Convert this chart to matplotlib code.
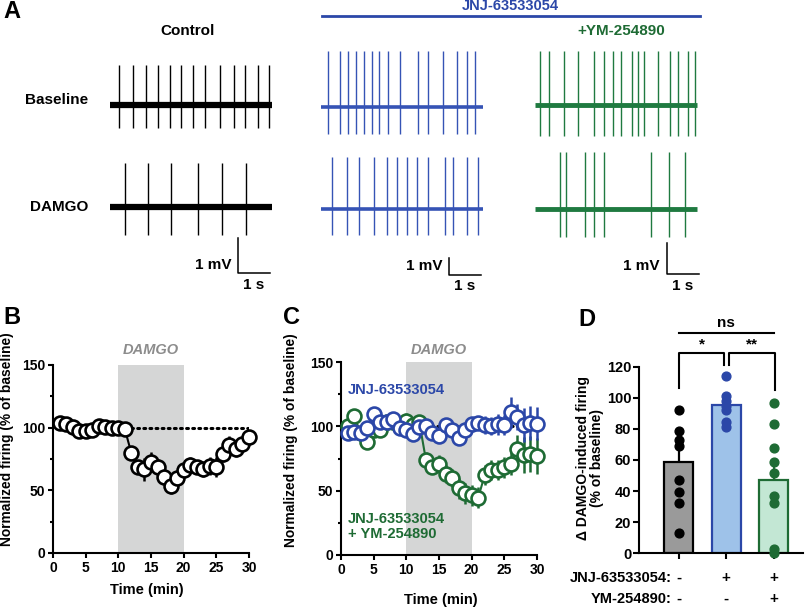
import numpy as np
import matplotlib
matplotlib.use("Agg")
import matplotlib.pyplot as plt

plt.rcParams['font.family'] = ['Liberation Sans', 'DejaVu Sans']
plt.rcParams['font.weight'] = 'bold'
plt.rcParams['axes.labelweight'] = 'bold'

W, H = 805, 608

BLUE = '#2b47a8'
BLUE_TR = '#3553b5'
GREEN = '#1e6b34'
GREEN_TR = '#1f7a40'
SHADE = '#d5d6d6'

# ---------------- panel A: spike times (s) ----------------
ctrl_base_spikes = [0.28, 0.72, 1.12, 1.50, 1.87, 2.22, 2.59, 2.97, 3.44, 3.87, 4.22, 4.62, 4.97]
ctrl_damgo_spikes = [0.47, 1.19, 1.90, 2.75, 3.50, 4.25]
jnj_base_spikes = [0.23, 0.59, 0.83, 1.09, 1.35, 1.60, 1.81, 2.10, 2.47, 3.03, 3.33, 3.80, 4.24, 4.55, 4.80]
jnj_damgo_spikes = [0.33, 0.80, 1.20, 1.67, 2.05, 2.37, 2.68, 3.01, 3.35, 3.88, 4.13, 4.55, 4.92]
ym_base_spikes = [0.16, 0.44, 0.92, 1.35, 1.85, 2.16, 2.45, 2.69, 3.02, 3.22, 3.42, 3.85, 4.22, 4.46, 4.77, 5.00]
ym_damgo_spikes = [0.79, 0.97, 1.57, 1.83, 2.15, 3.62, 4.19, 4.69]

# spike amplitude (up, down) in mV for each row
ctrl_amp = [(1.14, 0.66), (1.26, 0.80)]
jnj_amp = [(3.30, 1.60), (3.06, 1.53)]
ym_amp = [(1.74, 1.00), (1.84, 0.90)]
trace_dur = 5.05

# ---------------- panel B ----------------
time_min = np.arange(1, 31)
ctrl_firing = [103.5, 103, 100.3, 97.7, 97.7, 98.3, 101.5, 100.3, 100, 99.5, 98.8,
               79.5, 68.9, 66.8, 72.9, 68.9, 60.9, 53.7, 59.6, 66.2,
               70.2, 68.9, 66.8, 69.4, 68.9, 79.0, 86.2, 82.7, 87.0, 92.8]
ctrl_sem = [2, 2, 2, 2, 2, 2, 2, 2, 2, 2, 2,
            5, 5, 9, 8, 6, 5, 7, 5, 5,
            6, 5, 6, 7, 8, 6, 7, 6, 5, 4]

# ---------------- panel C ----------------
jnj_firing = [94.6, 95.8, 95.0, 98.4, 109.5, 103.5, 103.1, 105.4, 98.4, 97.1,
              93.8, 99.2, 100.5, 95.0, 92.5, 101.0, 97.0, 90.7, 97.0, 102.0,
              102.8, 101.0, 100.0, 101.5, 101.0, 111.0, 107.0, 101.0, 102.5, 102.0]
jnj_sem = [3, 3, 3, 3, 3, 3, 3, 3, 3, 3, 3, 3, 3, 3, 3, 4, 3, 3, 3, 3,
           5, 7, 7, 8, 8, 12, 10, 13, 13, 13]
ym_firing = [100, 108, 95, 88, 97, 97, 103, 103, 100, 104,
             101, 103, 73.8, 68.6, 71.0, 63.0, 59.6, 51.8, 48.0, 46.3,
             44.5, 62.2, 66.1, 66.1, 68.2, 71.0, 82.0, 77.8, 78.5, 77.0]
ym_sem = [4, 5, 4, 6, 4, 4, 4, 5, 5, 6, 5, 6, 6, 6, 7, 7, 7, 8, 8, 8,
          8, 8, 8, 8, 8, 9, 11, 14, 14, 14]

# ---------------- panel D ----------------
d_means = [58.5, 95.4, 47.1]
d_sem = [9, 4, 11]
d_ctrl_pts = [92.1, 78.6, 72.9, 69.0, 47.1, 39.6, 32.1, 13.3]
d_jnj_pts = [114.2, 101.1, 98.1, 95.0, 92.1, 84.6, 81.4]
d_ym_pts = [96.9, 82.9, 67.5, 58.9, 51.4, 36.9, 32.1, 2.6, 0.4]
jnj_signs = ['-', '+', '+']
ym_signs = ['-', '-', '+']

fig = plt.figure(figsize=(W / 100, H / 100), dpi=100)


def px_axes(left, top, right, bottom):
    return fig.add_axes([left / W, 1 - bottom / H, (right - left) / W, (bottom - top) / H])


def ftext(x, y, s, **kw):
    fig.text(x / W, 1 - y / H, s, **kw)


# ---------------- A: traces ----------------
PPS = 32.0  # px per second


def draw_traces(x0, ppm, color, base_lw, rows, bar_t, bar_py):
    ax = px_axes(x0 - 6, 30, x0 + 184, 295)
    ax.set_xlim(-6 / PPS, 184 / PPS)
    ax.set_ylim(0, 265 / ppm)
    ax.axis('off')
    for spikes, (up, down), py in rows:
        y0 = (295 - py) / ppm
        ax.plot([0, trace_dur], [y0, y0], color=color, lw=base_lw, solid_capstyle='butt')
        ax.vlines(spikes, y0 - down, y0 + up, color=color, lw=1.0)
    by = (295 - bar_py) / ppm
    ax.plot([bar_t, bar_t, bar_t + 1], [by + 1, by, by], color='black', lw=1.1)
    ax.annotate('1 mV', (bar_t, by), xytext=(-5, 6), textcoords='offset points',
                ha='right', va='center', fontsize=11)
    ax.annotate('1 s', (bar_t + 0.5, by), xytext=(0, -8.5), textcoords='offset points',
                ha='center', va='center', fontsize=11)


draw_traces(110, 35, 'black', 4.5,
            [(ctrl_base_spikes, ctrl_amp[0], 105), (ctrl_damgo_spikes, ctrl_amp[1], 207)],
            4.0, 273)
draw_traces(321, 17, BLUE_TR, 2.6,
            [(jnj_base_spikes, jnj_amp[0], 107), (jnj_damgo_spikes, jnj_amp[1], 209)],
            4.0, 274.5)
draw_traces(535, 31, GREEN_TR, 3.5,
            [(ym_base_spikes, ym_amp[0], 105), (ym_damgo_spikes, ym_amp[1], 209)],
            4.12, 274)

ftext(3, 11, 'A', fontsize=17, va='center', ha='left')
ftext(188, 31, 'Control', fontsize=11, ha='center', va='center')
ftext(88, 100, 'Baseline', fontsize=11, ha='right', va='center')
ftext(88, 207, 'DAMGO', fontsize=11, ha='right', va='center')
ftext(510, 6, 'JNJ-63533054', fontsize=10.5, ha='center', va='center', color=BLUE)
ftext(621, 31, '+YM-254890', fontsize=11, ha='center', va='center', color=GREEN)
fig.add_artist(plt.Line2D([322 / W, 700 / W], [1 - 16 / H, 1 - 16 / H], color=BLUE, lw=2))


# ---------------- B & C: time courses ----------------
def style_time_axes(ax):
    ax.set_xlim(0, 30)
    ax.set_ylim(0, 150)
    ax.set_xticks(range(0, 31, 5))
    ax.set_yticks([0, 50, 100, 150])
    ax.set_yticks([25, 75, 125], minor=True)
    for side in ['top', 'right']:
        ax.spines[side].set_visible(False)
    for side in ['left', 'bottom']:
        ax.spines[side].set_linewidth(1.5)
    ax.tick_params(which='both', width=1.5, labelsize=10, length=3.5, pad=2)
    ax.tick_params(which='minor', length=2.5)
    ax.axvspan(10, 20, color=SHADE, lw=0, zorder=0)
    ax.set_xlabel('Time (min)', fontsize=10.5)
    ax.set_ylabel('Normalized firing (% of baseline)', fontsize=9.9)


axB = px_axes(53, 365, 249, 553)
style_time_axes(axB)
axB.plot([11, 30], [100, 100], color='black', lw=2.2, ls=(0, (0.6, 1.4)),
         dash_capstyle='round', zorder=2)
axB.errorbar(time_min, ctrl_firing, yerr=ctrl_sem, color='black', lw=1.5, elinewidth=1.8,
             capsize=0, marker='o', ms=10, mfc='white', mec='black', mew=1.9,
             clip_on=False, zorder=3)
axB.text(15, 162, 'DAMGO', ha='center', va='center', fontsize=10.5, style='italic',
         color='#8c8c8c')
axB.yaxis.set_label_coords(-0.2, 0.605)
axB.xaxis.set_label_coords(0.48, -0.16)

axC = px_axes(341, 362, 537, 555)
style_time_axes(axC)
axC.plot([11, 30], [100, 100], color='black', lw=2.2, ls=(0, (0.6, 1.4)),
         dash_capstyle='round', zorder=2)
axC.errorbar(time_min, ym_firing, yerr=ym_sem, color=GREEN, lw=1.5, elinewidth=1.8,
             capsize=0, marker='o', ms=10, mfc='white', mec=GREEN, mew=1.9,
             clip_on=False, zorder=3)
axC.errorbar(time_min, jnj_firing, yerr=jnj_sem, color=BLUE, lw=1.5, elinewidth=1.8,
             capsize=0, marker='o', ms=10, mfc='white', mec=BLUE, mew=1.9,
             clip_on=False, zorder=4)
axC.text(15, 159, 'DAMGO', ha='center', va='center', fontsize=10.5, style='italic',
         color='#8c8c8c')
axC.text(1, 128, 'JNJ-63533054', color=BLUE, fontsize=10.5, va='center', ha='left')
axC.text(1, 22, 'JNJ-63533054\n+ YM-254890', color=GREEN, fontsize=10.5, va='center',
         ha='left', linespacing=1.1)
axC.yaxis.set_label_coords(-0.22, 0.595)
axC.xaxis.set_label_coords(0.51, -0.197)

ftext(3, 317, 'B', fontsize=17, va='center', ha='left')
ftext(283, 317, 'C', fontsize=17, va='center', ha='left')

# ---------------- D: bars ----------------
axD = px_axes(639, 320, 803, 553.3)
pos = np.arange(3)
bar_fill = ['#9a9a9a', '#9ec2e9', '#c3e7d4']
bar_edge = ['black', BLUE, GREEN]
axD.bar(pos, d_means, width=0.61, color=bar_fill, edgecolor=bar_edge, lw=1.6, zorder=2)
for i in range(3):
    axD.errorbar(pos[i], d_means[i], yerr=[[0], [d_sem[i]]], color=bar_edge[i],
                 lw=1.6, capsize=0, zorder=3)
pts_sets = [d_ctrl_pts, d_jnj_pts, d_ym_pts]
for i, pts in enumerate(pts_sets):
    axD.scatter(np.full(len(pts), pos[i]), pts, s=40, color=bar_edge[i], zorder=4,
                clip_on=False)
axD.set_xlim(-0.84, 2.62)
axD.set_ylim(0, 150)
axD.set_yticks(range(0, 121, 20))
axD.set_xticks(pos)
axD.set_xticklabels([])
axD.spines['left'].set_bounds(0, 120)
for side in ['top', 'right']:
    axD.spines[side].set_visible(False)
for side in ['left', 'bottom']:
    axD.spines[side].set_linewidth(1.5)
axD.tick_params(width=1.5, length=4, labelsize=10.5, pad=1.5)
axD.set_ylabel('\u0394 DAMGO-induced firing\n(% of baseline)', fontsize=10,
               linespacing=1.0)
axD.yaxis.set_label_coords(-0.215, 0.41)

# significance brackets
kw = dict(color='black', lw=1.5, clip_on=False)
axD.plot([0, 2], [141.7, 141.7], **kw)
axD.text(1, 143.5, 'ns', ha='center', va='bottom', fontsize=11)
axD.plot([0, 0, 0.95, 0.95], [106, 128.7, 128.7, 121], **kw)
axD.plot([1.06, 1.06, 2.03, 2.03], [121, 128.7, 128.7, 105], **kw)
axD.text(0.48, 130, '*', ha='center', va='bottom', fontsize=11)
axD.text(1.55, 130, '**', ha='center', va='bottom', fontsize=11)

ftext(578, 320, 'D', fontsize=17, va='center', ha='left')
ftext(672, 578, 'JNJ-63533054:', fontsize=10.5, ha='right', va='center')
ftext(672, 599, 'YM-254890:', fontsize=10.5, ha='right', va='center')
for i in range(3):
    xpx = 639 + (pos[i] + 0.84) / 3.46 * 164
    ftext(xpx, 578, jnj_signs[i], fontsize=11, ha='center', va='center')
    ftext(xpx, 599, ym_signs[i], fontsize=11, ha='center', va='center')

fig.savefig('out.png', dpi=100)
